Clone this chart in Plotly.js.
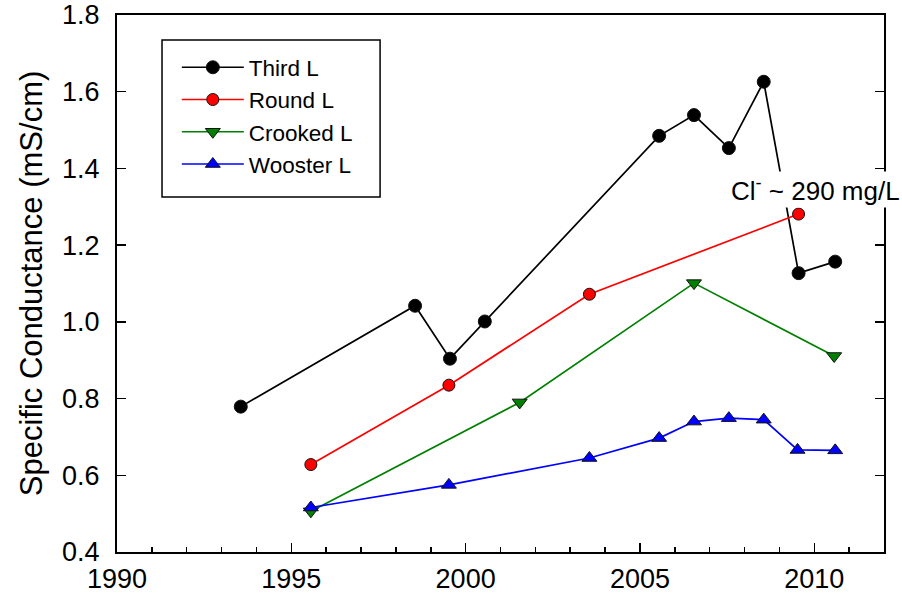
<!DOCTYPE html>
<html>
<head>
<meta charset="utf-8">
<script src="https://cdn.plot.ly/plotly-3.0.1.min.js"></script>
<style>html,body{margin:0;padding:0;background:#fff;}#chart{width:902px;height:600px;}</style>
</head>
<body>
<div id="chart"></div>
<script>
// Data
var thirdYears = [1993.55, 1998.55, 1999.55, 2000.55, 2005.55, 2006.55, 2007.55, 2008.55, 2009.55, 2010.6];
var thirdVals  = [0.779, 1.042, 0.904, 1.001, 1.485, 1.539, 1.453, 1.626, 1.127, 1.157];

var roundYears = [1995.56, 1999.52, 2003.55, 2009.55];
var roundVals  = [0.628, 0.835, 1.072, 1.281];

var crookedYears = [1995.56, 2001.55, 2006.55, 2010.57];
var crookedVals  = [0.506, 0.79, 1.101, 0.911];

var woosterYears = [1995.56, 1999.52, 2003.55, 2005.55, 2006.55, 2007.55, 2008.55, 2009.52, 2010.6];
var woosterVals  = [0.516, 0.575, 0.645, 0.697, 0.740, 0.749, 0.745, 0.666, 0.665];

var xTickVals = [1990, 1995, 2000, 2005, 2010];
var yTickVals = [0.4, 0.6, 0.8, 1.0, 1.2, 1.4, 1.6, 1.8];
var yTickText = ['0.4', '0.6', '0.8', '1.0', '1.2', '1.4', '1.6', '1.8'];

var noteText = 'Cl<sup>-</sup> ~ 290 mg/L';
var noteX = 2007.55, noteY = 1.345;

var FONT = 'Arial, "Liberation Sans", sans-serif';

function series(name, xs, ys, color, symbol, size) {
  return {
    type: 'scatter', mode: 'lines+markers', name: name,
    x: xs, y: ys,
    line: {color: color, width: 1.7},
    marker: {color: color, symbol: symbol, size: size, line: {color: '#111', width: 1}},
    cliponaxis: false
  };
}

var traces = [
  series('Third L', thirdYears, thirdVals, '#000000', 'circle', 13),
  series('Round L', roundYears, roundVals, '#ff0000', 'circle', 12),
  series('Crooked L', crookedYears, crookedVals, '#008000', 'triangle-down', 13),
  series('Wooster L', woosterYears, woosterVals, '#0000ff', 'triangle-up', 13)
];

var layout = {
  width: 902, height: 600,
  margin: {l: 117, r: 18, t: 15, b: 48},
  paper_bgcolor: '#fff', plot_bgcolor: '#fff',
  font: {family: FONT, color: '#000', size: 24},
  showlegend: true,
  legend: {
    x: 0.078, y: 0.942, xanchor: 'left', yanchor: 'top',
    bgcolor: 'rgba(0,0,0,0)', borderwidth: 0,
    font: {family: FONT, size: 22.5, color: '#000'},
    tracegroupgap: 0, itemwidth: 62
  },
  shapes: [{
    type: 'rect', xref: 'paper', yref: 'paper',
    x0: 0.0587, x1: 0.343, y0: 0.6613, y1: 0.9535,
    line: {color: '#000', width: 1.5}, fillcolor: '#fff', layer: 'below'
  }],
  xaxis: {
    range: [1990, 2012], tickvals: xTickVals,
    ticks: 'inside', ticklen: 9, tickwidth: 1.5, tickcolor: '#000',
    minor: {dtick: 1, ticks: 'inside', ticklen: 5, tickwidth: 1.5, tickcolor: '#000'},
    showline: true, linecolor: '#000', linewidth: 2, mirror: true,
    showgrid: false, zeroline: false,
    tickfont: {family: FONT, size: 27, color: '#000'},
    ticklabelstandoff: 2
  },
  yaxis: {
    range: [0.4, 1.8], tickvals: yTickVals, ticktext: yTickText,
    ticks: 'inside', ticklen: 9, tickwidth: 1.5, tickcolor: '#000',
    showline: true, linecolor: '#000', linewidth: 2, mirror: 'ticks',
    showgrid: false, zeroline: false,
    tickfont: {family: FONT, size: 27, color: '#000'},
    ticklabelstandoff: 10,
    title: {text: 'Specific Conductance (mS/cm)', font: {family: FONT, size: 31, color: '#000'}, standoff: 10}
  },
  annotations: [{
    x: noteX, y: noteY, xref: 'x', yref: 'y',
    text: noteText, showarrow: false, xanchor: 'left', yanchor: 'middle',
    bgcolor: '#fff', font: {family: FONT, size: 26, color: '#000'}
  }]
};

Plotly.newPlot('chart', traces, layout, {displayModeBar: false, staticPlot: true});
</script>
</body>
</html>
